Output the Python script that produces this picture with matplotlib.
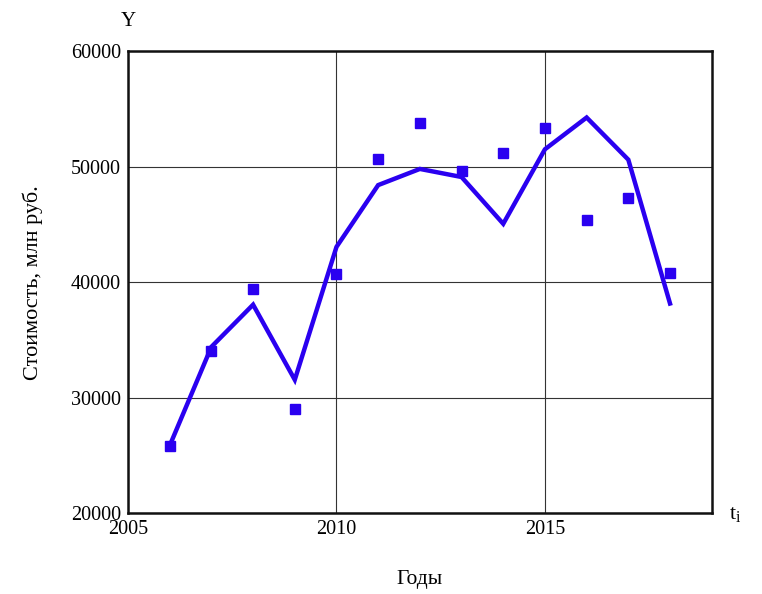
import matplotlib.pyplot as plt

years = [2006, 2007, 2008, 2009, 2010, 2011, 2012, 2013, 2014, 2015, 2016, 2017, 2018]
# фактические значения (точки)
fact = [25800, 34000, 39450, 29000, 40700, 50700, 53800, 49650, 51200, 53300, 45400, 47300, 40800]
# модель (линия)
model = [25850, 34400, 38050, 31550, 43050, 48400, 49800, 49100, 45050, 51500, 54250, 50600, 38150]

plt.rcParams['font.family'] = ['Liberation Serif', 'DejaVu Serif']

fig = plt.figure(figsize=(7.62, 5.94), dpi=100)
ax = fig.add_axes([0.168, 0.136, 0.766, 0.778])

ax.plot(years, model, color='#2a00f0', linewidth=3.2, solid_joinstyle='miter', zorder=3)
ax.plot(years, fact, 's', color='#2a00f0', markersize=7, linestyle='none', zorder=4)

ax.set_xlim(2005, 2019)
ax.set_ylim(20000, 60000)
ax.set_xticks([2005, 2010, 2015])
ax.set_yticks([20000, 30000, 40000, 50000, 60000])
ax.tick_params(length=0, labelsize=14.5, pad=5)
ax.grid(True, color='#333333', linewidth=0.8)

for s in ax.spines.values():
    s.set_linewidth(1.8)
    s.set_color('#111111')

ax.set_ylabel('Стоимость, млн руб.', fontsize=16, labelpad=20)
ax.set_xlabel('Годы', fontsize=15.5, labelpad=22)

fig.text(128 / 762, 1 - 22 / 594, 'Y', fontsize=15, ha='center', va='center')
fig.text(735 / 762, 1 - 515 / 594, '$\\mathregular{t_i}$', fontsize=16, ha='center', va='center')

plt.savefig('out.png', dpi=100)
